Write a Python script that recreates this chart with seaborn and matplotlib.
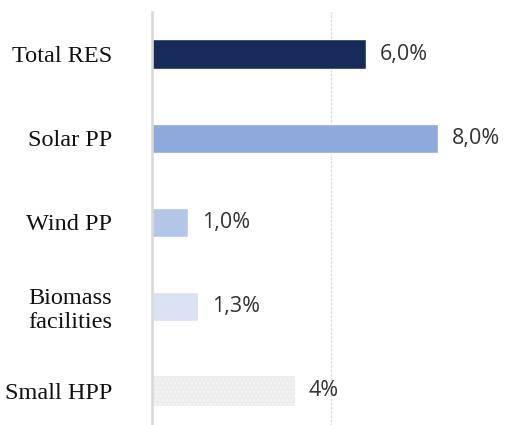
import numpy as np
import pandas as pd
import matplotlib
matplotlib.use("Agg")
import matplotlib.pyplot as plt
import seaborn as sns

# data
categories = ["Total RES", "Solar PP", "Wind PP", "Biomass\nfacilities", "Small HPP"]
values = [6.0, 8.0, 1.0, 1.3, 4.0]
value_labels = ["6,0%", "8,0%", "1,0%", "1,3%", "4%"]
colors = ["#172B5A", "#8EA9DB", "#B4C6E7", "#D9E1F2", "#EDEDED"]

df = pd.DataFrame({"category": categories, "value": values})

sns.set_style("white")

fig = plt.figure(figsize=(5.07, 4.25), dpi=100)
ax = fig.add_axes([152 / 507, -8 / 425, 355 / 507, 421 / 425])

sns.barplot(data=df, y="category", x="value", hue="category",
            palette=colors, legend=False, orient="h", width=0.35,
            saturation=1, ax=ax)

# dotted texture on the last bar
ax.patches[-1].set_hatch("....")
ax.patches[-1].set_edgecolor("#F6F6F6")
ax.patches[-1].set_linewidth(0)

ax.set_xlim(0, 9.94)
ax.set_ylim(4.5, -0.5)
ax.set_xticks([0, 5])
ax.xaxis.grid(True, color="#DDDDDD", linestyle=(0, (2, 1)), linewidth=1)
ax.set_axisbelow(True)
ax.tick_params(axis="x", bottom=False, labelbottom=False)
ax.tick_params(axis="y", left=False, pad=25)
ax.set_xlabel("")
ax.set_ylabel("")

for s in ["top", "right", "bottom"]:
    ax.spines[s].set_visible(False)
ax.spines["left"].set_color("#D8D8D8")
ax.spines["left"].set_linewidth(1.8)

for lab in ax.get_yticklabels():
    lab.set_fontfamily("Liberation Serif")
    lab.set_fontsize(17.5)
    lab.set_multialignment("center")
    lab.set_color("#111111")

for bar, txt in zip(ax.patches, value_labels):
    ax.annotate(txt, (bar.get_width(), bar.get_y() + bar.get_height() / 2),
                xytext=(10, 0), textcoords="offset points",
                va="center", ha="left", fontsize=15.5,
                fontfamily="Open Sans", color="#333333")

plt.savefig("out.png", dpi=100)
